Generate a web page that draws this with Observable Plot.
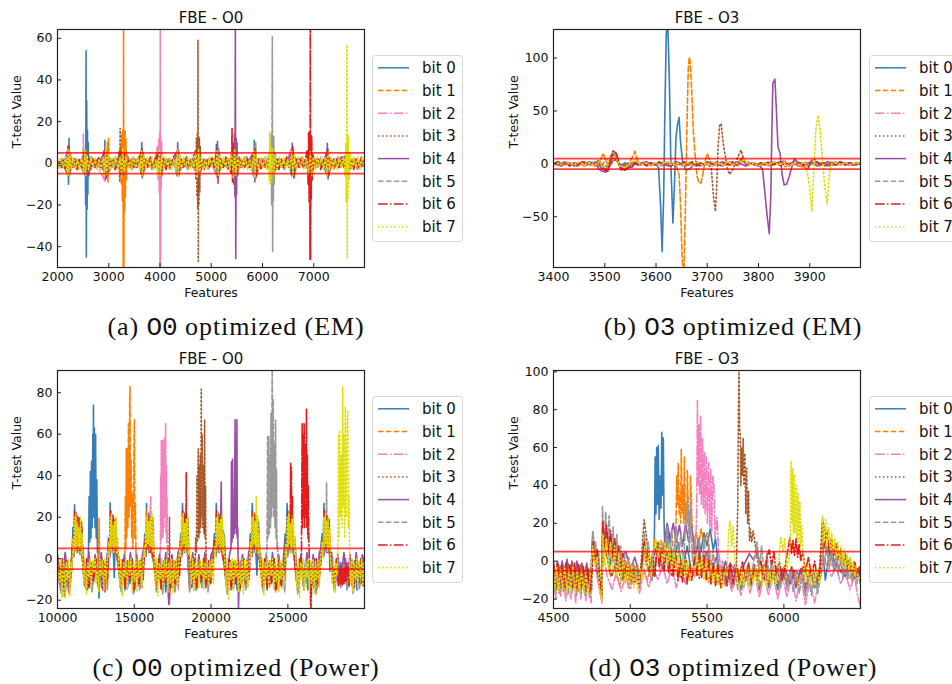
<!DOCTYPE html>
<html><head><meta charset="utf-8">
<script src="https://cdn.jsdelivr.net/npm/d3@7"></script>
<script src="https://cdn.jsdelivr.net/npm/@observablehq/plot@0.6"></script>
<style>
body{margin:0;background:#fff;}
#root{position:relative;width:952px;height:684px;overflow:hidden;background:#fff;font-family:"DejaVu Sans",sans-serif;}
.panel{position:absolute;}
.cap{position:absolute;font-family:"Liberation Serif",serif;font-size:26px;line-height:25px;white-space:nowrap;transform:translateX(-50%);letter-spacing:0.9px;color:#111;}
.cap .tt{font-family:"Liberation Mono",monospace;letter-spacing:0;}
</style></head>
<body><div id="root"></div>
<script>
// ---------- legend / series ----------
const bits = ["bit 0","bit 1","bit 2","bit 3","bit 4","bit 5","bit 6","bit 7"];
const colors = ["#377eb8","#ff7f00","#f781bf","#a65628","#984ea3","#999999","#e41a1c","#dede00"];
const dashes = [null,"5.5,2.4","9.6,2.4,1.5,2.4","1.5,2.5",null,"5.5,2.4","9.6,2.4,1.5,2.4","1.5,2.5"];
const threshold = [5, -5];

// ---------- panel (a): FBE - O0, EM ----------
const aXTicks = [2000,3000,4000,5000,6000,7000];
const aYTicks = [-40,-20,0,20,40,60];
const a0 = [2000,1,2080,-2,2150,2,2180,-4,2200,7,2215,-10,2225,12,2235,-6,2250,5,2270,-2,2350,2,2420,-2,2490,3,2520,-4,2540,6,2550,-20,2557,54,2563,-45,2570,30,2578,-22,2585,16,2592,-15,2600,10,2615,-6,2640,3,2720,-2,2800,2,2880,-3,2905,6,2915,-7,2925,11,2935,-8,2950,6,2970,-3,3050,2,3150,-2,3240,4,3260,-5,3280,5,3300,-4,3380,2,3480,-2,3580,2,3630,-5,3645,10,3655,-7,3670,5,3700,-2,3800,2,3900,-2,3970,4,3990,-5,4010,4,4100,-2,4200,2,4300,-2,4335,-6,4345,10,4355,-5,4370,4,4450,-2,4550,2,4650,-2,4730,4,4750,-4,4770,3,4850,-2,4950,2,5050,-2,5090,-5,5100,9,5110,-6,5130,5,5200,-2,5300,2,5400,-3,5430,5,5450,-4,5550,2,5650,-2,5750,2,5830,-6,5840,11,5850,-9,5860,7,5880,-3,5980,2,6080,-2,6180,3,6210,-3,6300,2,6400,-2,6500,2,6570,-6,6580,9.6,6590,-5,6600,5,6700,-2,6800,2,6900,-3,6940,4,7000,-2,7100,2,7200,-2,7255,-5,7265,9.6,7275,-6,7300,3,7400,-2,7500,2,7600,-2,7650,3,7700,-2,7800,2,7900,-2,7990,1];
const a1 = [2000,-1,2100,2,2190,-5,2210,6,2230,-4,2300,1,2400,-2,2500,2,2540,-5,2560,6,2580,-4,2680,2,2780,-2,2880,2,2960,-6,2975,10,2985,-9,2995,12,3010,-4,3100,2,3200,-3,3235,8,3245,-10,3255,14,3265,-18,3275,16,3283,-55,3289,66,3295,-55,3302,15,3310,-23,3318,16,3326,-16,3334,12,3345,-8,3360,4,3450,-2,3550,2,3640,-5,3655,6,3670,-3,3750,2,3850,-2,3940,5,3955,-6,3965,8,3980,-4,4080,2,4180,-2,4280,2,4340,-5,4355,6,4370,-3,4470,2,4570,-2,4670,2,4740,-5,4760,5,4850,-2,4950,2,5050,-2,5110,-6,5125,7,5140,-4,5250,2,5350,-2,5440,5,5480,-5,5500,4,5600,-2,5700,2,5800,-2,5850,6,5870,-6,5950,2,6050,-2,6150,2,6200,-5,6220,5,6320,-2,6420,2,6520,-2,6590,7,6610,-6,6700,2,6800,-2,6920,5,6950,-5,7050,2,7150,-2,7270,6,7290,-5,7400,2,7500,-2,7640,4,7670,-4,7750,2,7850,-2,7990,1];
const a2 = [2000,1,2100,-2,2200,7,2220,-6,2240,4,2340,-2,2440,2,2495,-4,2505,14,2515,-5,2530,6,2600,-2,2700,2,2800,-2,2920,-8.5,2940,8,2960,-5,3060,2,3160,-2,3260,5,3290,-6,3310,4,3410,-2,3510,2,3610,-2,3650,6,3670,-5,3770,2,3870,-2,3950,8,3965,-8,3975,12,3985,-14,3995,14.7,4000,-55,4005,66,4010,-55,4016,13,4024,-12,4032,10,4045,-6,4060,3,4160,-2,4260,2,4345,-6,4360,7,4375,-3,4475,2,4575,-2,4675,2,4740,-6,4760,6,4860,-2,4960,2,5060,-2,5115,-7,5130,7,5145,-3,5245,2,5345,-2,5430,6,5470,-6,5500,3,5600,-2,5700,2,5840,-7,5860,8,5880,-3,5980,2,6080,-2,6200,6,6220,-5,6320,2,6420,-2,6580,8,6600,-6,6700,2,6800,-2,6930,5,6960,-4,7060,2,7160,-2,7275,7,7295,-5,7400,2,7500,-2,7650,5,7680,-4,7780,2,7880,-2,7990,1];
const a3 = [2000,-1,2100,2,2205,-6,2220,6,2300,-2,2400,2,2520,-5,2540,5,2640,-2,2740,2,2840,-2,2940,6,2960,-6,3060,2,3160,-2,3205,6,3215,-9,3222,16.7,3230,-6,3245,5,3330,-2,3430,2,3530,-2,3650,5,3670,-4,3770,2,3870,-2,3990,5,4020,-5,4120,2,4220,-2,4350,5,4370,-4,4470,2,4570,-2,4690,6,4700,-8,4710,12,4720,-16,4728,14.7,4735,-22,4741,59,4747,-47,4753,13,4760,-20,4768,12,4776,-14,4785,8,4800,-4,4850,2,4950,-2,5050,2,5120,-5,5135,6,5240,-2,5340,2,5440,-5,5460,5,5560,-2,5660,2,5760,-2,5850,6,5870,-5,5970,2,6070,-2,6190,5,6210,-5,6310,2,6410,-2,6590,6,6610,-5,6710,2,6810,-2,6940,5,6960,-4,7060,2,7160,-2,7270,6,7290,-4,7390,2,7490,-2,7650,4,7680,-4,7780,2,7880,-2,7990,-1];
const a4 = [2000,1,2100,-2,2210,6,2230,-5,2330,2,2430,-2,2530,5,2560,-5,2660,2,2760,-2,2930,6,2950,-5,3050,2,3150,-2,3270,5,3290,-5,3390,2,3490,-2,3640,5,3660,-5,3760,2,3860,-2,3990,5,4010,-5,4110,2,4210,-2,4350,5,4370,-4,4470,2,4570,-2,4740,5,4760,-5,4860,2,4960,-2,5060,2,5110,-5,5122,10.5,5132,-9.7,5142,7,5155,-4,5250,2,5350,-2,5420,8,5440,-10,5452,14,5462,-16,5470,66,5478,-45.8,5486,12,5494,-15,5502,10,5515,-6,5540,3,5640,-2,5740,2,5860,6,5880,-6,5980,2,6080,-2,6200,5,6220,-5,6320,2,6420,-2,6590,6,6610,-5,6710,2,6810,-2,6940,5,6960,-5,7060,2,7160,-2,7265,6,7280,-7.5,7300,3,7400,-2,7500,2,7650,4,7680,-4,7780,2,7880,-2,7990,1];
const a5 = [2000,-2,2060,2,2120,-2,2180,3,2215,-6,2230,6,2290,-2,2350,2,2410,-3,2470,2,2530,-5,2550,5,2610,-2,2670,3,2730,-2,2790,2,2850,-3,2930,6,2950,-6,3010,2,3070,-2,3130,3,3190,-2,3260,5,3290,-6,3350,2,3410,-2,3470,3,3530,-2,3590,2,3645,-6,3660,6,3720,-2,3780,2,3840,-3,3900,2,3990,-5,4010,5,4070,-2,4130,2,4190,-3,4250,2,4345,-5,4360,6,4420,-2,4480,2,4540,-3,4600,2,4660,-2,4740,-5,4760,5,4820,-2,4880,2,4940,-3,5000,2,5060,-2,5120,-6,5135,7,5195,-2,5255,2,5315,-3,5375,2,5440,5,5470,-5,5530,2,5590,-2,5650,3,5710,-2,5770,2,5855,-7,5868,10,5880,-6,5940,2,6000,-2,6060,3,6120,-3,6150,8,6160,-10,6170,14,6178,-20,6186,14.7,6192,60.7,6198,-42.5,6205,12,6212,-18,6220,13,6230,-10,6245,5,6300,-2,6360,2,6420,-3,6480,2,6540,-2,6585,6,6600,-6,6660,2,6720,-2,6780,3,6840,-2,6930,5,6960,-5,7020,2,7080,-2,7140,3,7200,-2,7270,5,7290,-5,7350,2,7410,-2,7470,3,7530,-2,7590,2,7650,-5,7670,5,7730,-2,7790,2,7850,-3,7910,2,7990,-1];
const a6 = [2000,1,2050,-2,2100,2,2150,-3,2195,-5,2205,8.5,2215,-6,2230,5,2280,-2,2330,2,2380,-3,2430,2,2480,-2,2525,6,2545,-6,2600,2,2650,-3,2700,2,2750,-2,2800,3,2850,-2,2935,7,2955,-7,2975,5,3025,-2,3075,2,3125,-3,3175,2,3260,6,3280,-6,3300,5,3350,-2,3400,2,3450,-3,3500,2,3550,-2,3600,3,3645,7,3660,-6,3710,2,3760,-2,3810,3,3860,-2,3910,2,3990,6,4015,-6,4065,2,4115,-3,4165,2,4215,-2,4265,3,4345,6,4365,-6,4415,2,4465,-2,4515,3,4565,-2,4615,2,4665,-3,4740,7,4760,-6,4810,2,4860,-3,4910,2,4960,-2,5010,3,5060,-2,5115,7,5135,-7,5185,2,5235,-2,5285,3,5335,-2,5395,-5,5405,16.7,5415,-9,5425,10,5440,-4,5490,2,5540,-3,5590,2,5640,-2,5690,3,5740,-2,5790,2,5850,7,5870,-7,5920,2,5970,-3,6020,2,6070,-2,6120,3,6200,6,6220,-6,6270,2,6320,-3,6370,2,6420,-2,6470,3,6520,-2,6590,8,6610,-7,6660,2,6710,-2,6760,3,6810,-2,6870,6,6890,-10,6900,14.7,6910,-18.5,6920,15,6926,-46,6932,66,6938,-46,6945,14,6952,-17,6960,13,6970,-8,6985,4,7035,-2,7085,2,7135,-3,7185,2,7235,-2,7270,7,7290,-6,7340,2,7390,-3,7440,2,7490,-2,7540,3,7590,-2,7650,5,7680,-5,7730,2,7780,-3,7830,2,7880,-2,7930,3,7990,-1];
const a7 = [2000,2,2040,-3,2080,3,2120,-2,2160,3,2190,-6,2205,7,2220,-6,2240,5,2270,-3,2310,3,2350,-3,2390,2,2430,-3,2470,3,2510,-5,2530,7,2550,-6,2575,4,2610,-3,2650,3,2690,-2,2730,3,2770,-3,2810,2,2850,-3,2890,3,2920,-6,2940,8,2960,-6,2985,5,3020,-3,3060,3,3100,-2,3140,3,3180,-3,3220,3,3255,-7,3275,7,3300,-5,3330,3,3370,-3,3410,2,3450,-3,3490,3,3530,-2,3570,3,3610,-3,3640,6,3660,-6,3685,4,3720,-3,3760,3,3800,-2,3840,3,3880,-3,3920,2,3960,-6,3985,7,4010,-6,4035,4,4070,-3,4110,3,4150,-2,4190,3,4230,-3,4270,2,4310,-3,4340,6,4360,-6,4385,4,4420,-3,4460,3,4500,-2,4540,3,4580,-3,4620,2,4660,-3,4700,5,4730,-7,4750,7,4775,-5,4810,3,4850,-3,4890,2,4930,-3,4970,3,5010,-2,5050,3,5090,-3,5115,6,5135,-6,5160,4,5200,-3,5240,3,5280,-2,5320,3,5360,-3,5400,5,5430,-7,5455,7,5480,-6,5510,4,5550,-3,5590,3,5630,-2,5670,3,5710,-3,5750,2,5790,-3,5835,6,5855,-7,5880,5,5920,-3,5960,3,6000,-2,6040,3,6080,-3,6120,5,6132,-8,6140,15,6150,-10,6165,8,6180,-9,6200,7,6225,-6,6250,4,6290,-3,6330,3,6370,-2,6410,3,6450,-3,6490,2,6530,-3,6570,6,6595,-6,6620,4,6660,-3,6700,3,6740,-2,6780,3,6820,-3,6860,2,6900,-5,6930,6,6960,-6,6990,3,7030,-3,7070,3,7110,-2,7150,3,7190,-3,7230,3,7260,-6,7280,6,7305,-4,7340,3,7380,-3,7420,2,7460,-3,7500,3,7540,-2,7580,3,7610,-6,7625,10,7633,-18.5,7641,14.7,7647,57,7653,-45.4,7660,14,7668,-17,7676,13,7690,-8,7710,5,7740,-3,7780,3,7820,-2,7860,3,7900,-3,7940,3,7990,-2];

// ---------- panel (b): FBE - O3, EM ----------
const bXTicks = [3400,3500,3600,3700,3800,3900];
const bYTicks = [-50,0,50,100];
const b0 = [3400,0,3410,2,3420,-1,3430,1,3440,-2,3450,1,3460,-1,3470,2,3480,-1,3490,3,3500,-5,3508,-3,3515,6,3522,4,3530,-2,3540,1,3550,-3,3560,2,3570,-1,3580,1,3590,-1,3600,0,3605,-4,3609,-40,3612,-83,3615,-30,3617,40,3620,123,3623,132,3626,80,3629,0,3633,-56,3636,-20,3639,25,3642,37,3645,44,3648,20,3652,2,3658,-6,3665,-5,3672,-2,3680,1,3690,-1,3700,2,3710,-1,3720,1,3730,-2,3740,1,3750,-1,3760,2,3770,3,3780,-1,3790,1,3800,-2,3810,1,3820,-1,3830,2,3840,-1,3850,1,3860,-2,3870,1,3880,-1,3890,1,3900,-1,3910,2,3920,1,3930,-2,3940,1,3950,-1,3960,1,3970,-1,3980,1,3990,-1,3999,0];
const b1 = [3400,1,3412,-1,3424,2,3436,-1,3448,1,3460,-2,3472,1,3484,-2,3492,4,3497,10,3502,3,3510,-3,3518,5,3526,2,3534,-4,3542,-2,3550,3,3556,8,3559,12,3563,4,3570,-1,3580,1,3592,-1,3604,1,3616,-1,3628,0,3640,-2,3645,-10,3648,-40,3651,-90,3654,-110,3657,-50,3659,0,3661,50,3663,90,3665,101,3667,95,3670,65,3673,30,3676,10,3680,-12,3684,-18,3688,-18,3692,-8,3696,3,3700,9.7,3704,5,3710,-2,3720,1,3732,-1,3744,2,3756,-1,3768,3,3780,-1,3792,1,3804,-2,3816,1,3828,-1,3840,2,3852,-3,3864,1,3876,-2,3888,-3,3900,2,3912,-1,3924,1,3936,-2,3948,1,3960,-1,3972,1,3984,-1,3999,0];
const b2 = [3400,-1,3415,1,3430,-2,3445,1,3460,-1,3475,2,3490,-3,3500,2,3510,6,3518,9,3526,2,3535,-3,3545,1,3555,-2,3565,2,3580,-1,3595,1,3610,-2,3625,2,3640,-1,3655,1,3670,-2,3685,1,3700,-1,3715,2,3730,-1,3745,1,3760,-2,3775,3,3790,-1,3805,1,3820,-2,3835,1,3850,3,3865,-1,3880,1,3895,-2,3910,1,3925,-1,3940,2,3955,-1,3970,1,3985,-1,3999,0];
const b3 = [3400,1,3415,-1,3430,1,3445,-2,3460,1,3475,-1,3490,2,3505,-3,3520,4,3535,-2,3550,1,3565,-1,3580,2,3595,-1,3610,1,3625,-2,3640,1,3655,-1,3670,2,3685,-1,3700,1,3708,-5,3712,-30,3716,-45,3719,-15,3721,15,3724,36,3727,38,3731,20,3736,5,3740,-6,3744,-10,3750,-5,3756,2,3762,9,3766,13,3770,6,3775,-1,3785,1,3800,-2,3815,1,3830,-1,3845,2,3860,-1,3875,1,3890,-2,3905,1,3920,-1,3935,2,3950,-1,3965,1,3980,-1,3999,0];
const b4 = [3400,0,3415,-2,3430,1,3445,-1,3460,2,3472,-1,3482,2,3488,-5,3495,-7,3502,-8,3508,-4,3514,6,3520,10,3526,2,3532,-6,3538,-4,3545,-5,3552,1,3565,-1,3580,2,3595,-1,3610,1,3625,-2,3640,2,3655,-1,3670,1,3685,-2,3700,1,3715,-1,3730,2,3745,-1,3760,1,3775,-2,3790,1,3800,-1,3808,-5,3813,-30,3817,-50,3821,-66,3824,-30,3826,30,3828,76,3832,80,3835,50,3838,16,3842,10,3846,-10,3850,-20,3855,-19,3860,-12,3865,-3,3870,5,3876,2,3885,-1,3900,1,3915,-2,3930,1,3945,-1,3960,2,3975,-1,3999,0];
const b5 = [3400,1,3410,-1,3420,2,3430,-1,3440,1,3450,-2,3460,1,3470,-1,3480,2,3490,-2,3498,-6,3505,-4,3512,8,3518,11,3525,3,3533,-4,3541,-3,3550,-1,3560,2,3570,-1,3580,1,3590,-2,3600,1,3610,-1,3620,2,3630,-1,3640,1,3650,-2,3660,1,3670,-1,3680,2,3690,-1,3700,1,3710,-2,3720,1,3730,-1,3740,2,3750,-1,3760,1,3770,3,3780,-1,3790,1,3800,-2,3810,1,3820,-1,3830,2,3840,-1,3850,1,3860,-2,3870,1,3880,-1,3890,2,3900,-1,3910,1,3920,-2,3930,1,3940,-1,3950,2,3960,-1,3970,1,3980,-1,3990,1,3999,0];
const b6 = [3400,0,3408,2,3416,-1,3424,1,3432,-2,3440,1,3448,-1,3456,2,3464,-1,3472,1,3480,-2,3487,3,3493,-4,3500,-6,3506,-7,3511,4,3516,12,3520,12,3524,8,3529,-2,3534,-5,3540,-6,3546,-2,3552,-4,3558,1,3566,-1,3574,1,3582,-2,3590,1,3598,-1,3606,2,3614,-1,3622,1,3630,-2,3638,1,3646,-1,3654,2,3662,-1,3670,1,3678,-2,3686,1,3694,-1,3702,2,3710,-1,3718,1,3726,-2,3734,1,3742,-1,3750,2,3758,-1,3764,3,3768,6,3772,2,3780,-1,3788,1,3796,-2,3804,1,3812,-1,3820,2,3828,-1,3836,1,3844,-2,3852,1,3860,-1,3868,2,3876,-1,3884,1,3890,-3,3896,-5,3902,2,3908,5,3914,2,3920,-1,3928,1,3936,-2,3944,1,3952,-1,3960,2,3968,-1,3976,1,3984,-1,3992,1,3999,0];
const b7 = [3400,-1,3410,1,3420,-2,3430,1,3440,-1,3450,2,3460,-1,3470,1,3480,-2,3490,3,3500,-3,3510,5,3520,7,3530,-2,3540,-4,3550,1,3560,4,3570,-1,3580,1,3590,-2,3600,1,3610,-1,3620,2,3630,-1,3640,1,3650,-2,3660,1,3670,-1,3680,2,3690,-1,3700,1,3710,-2,3720,1,3730,-1,3740,2,3750,-1,3760,1,3770,4,3780,-1,3790,1,3800,-2,3810,1,3820,-1,3830,2,3840,-1,3850,1,3860,-2,3870,1,3880,-1,3890,2,3896,-10,3900,-23,3904,-45,3908,-5,3912,33,3916,46,3920,33,3925,2,3929,-20,3934,-38,3938,-10,3942,0,3950,1,3960,-1,3970,1,3980,-1,3990,1,3999,0];

// ---------- panel (c): FBE - O0, Power ----------
const cXTicks = [10000,15000,20000,25000];
const cYTicks = [-20,0,20,40,60,80];
const c0 = [10000,-4,10200,-14,10350,-1,10500,-18,10650,-2,10800,-15,10950,-3,11000,15,11060,3,11110,26,11170,5,11230,22,11290,4,11350,20,11420,3,11500,18,11570,2,11650,-2,11750,-13,11850,-1,11950,-15,12020,5,12060,30,12100,8,12140,42,12180,10,12220,47,12260,15,12300,60,12330,20,12340,74,12370,25,12400,63,12440,15,12480,60,12520,10,12560,38,12600,3,12640,6,12700,-19,12800,-2,12900,-14,13000,-1,13100,-16,13200,-3,13320,10,13380,3,13430,27,13490,5,13560,21,13630,4,13700,-9,13780,18,13860,3,13950,-2,14100,-14,14250,-1,14400,-15,14550,-2,14700,-12,14850,0,15000,-16,15150,-2,15300,-13,15450,-1,15600,-4,15680,12,15740,4,15800,26.6,15870,5,15950,22,16030,4,16120,20,16200,3,16300,-3,16450,-15,16600,-2,16750,-14,16900,-1,17050,-16,17200,-2,17350,-13,17500,-1,17650,-15,17800,-2,17950,-3,18020,12,18080,4,18140,26.6,18210,5,18290,22,18370,4,18450,20,18530,3,18620,-3,18750,-14,18900,-1,19050,-15,19200,-2,19350,-12,19500,0,19650,-14,19800,-2,19950,-12,20100,-1,20220,12,20280,4,20340,26.6,20410,5,20490,22,20570,4,20650,20,20730,3,20850,12,20950,-3,21100,-15,21250,-2,21400,-13,21550,-1,21700,-15,21850,-2,22000,-12,22150,0,22300,-14,22450,-2,22560,12,22620,4,22680,26.6,22750,5,22830,22,22910,4,22990,-8,23080,18,23200,-3,23350,-14,23500,-1,23650,-15,23800,-2,23950,-12,24100,0,24250,-14,24400,-2,24550,-13,24700,-1,24830,12,24890,4,24950,26.6,25020,5,25100,22,25180,4,25260,20,25340,3,25450,10,25550,-3,25700,-15,25850,-2,26000,-13,26150,-1,26300,-15,26450,-2,26600,-12,26750,0,26900,-14,27050,-2,27230,12,27290,4,27350,26.6,27420,5,27500,22,27580,4,27660,18,27740,-6,27850,-3,28000,-14,28150,-1,28300,-13,28450,-2,28600,-12,28750,0,28900,-14,29050,-2,29200,-13,29350,-1,29500,-15,29650,-2,29800,-12,30000,-3];
const c1 = [10000,-3,10250,-15,10500,-1,10750,-17,11000,8,11080,2,11150,20,11230,4,11320,18,11420,3,11520,17,11620,0,11800,-13,12000,-1,12200,-14,12400,-2,12600,-10,12680,4,12705,19.5,12730,2,12900,-13,13100,-1,13250,-15,13350,8,13430,2,13520,20,13620,4,13720,18,13820,3,13950,-2,14100,-14,14250,-1,14380,-6,14420,30,14450,5,14480,53,14510,10,14550,53,14580,15,14620,65,14660,20,14700,75,14720,83,14750,25,14790,48,14830,10,14870,31,14910,5,14960,40,15005,67,15040,10,15070,27,15110,3,15200,-12,15350,-1,15500,-14,15650,6,15730,2,15820,20,15920,4,16020,18,16120,3,16250,-2,16450,-15,16650,-1,16850,-16,17050,-2,17250,-14,17450,-1,17650,-16,17850,-2,18000,7,18080,2,18170,19,18270,4,18370,18,18470,3,18600,-15,18800,-1,19000,-14,19200,-2,19400,-12,19600,0,19800,-14,20000,-2,20250,7,20330,2,20420,19,20520,4,20620,18,20720,3,20850,-2,21050,-15,21250,-1,21450,-14,21650,-2,21850,-16,22050,-1,22250,-13,22450,-2,22600,7,22680,2,22770,19,22870,4,22970,18,23070,3,23200,-2,23400,-14,23600,-1,23800,-13,24000,-2,24200,-15,24400,-1,24600,-13,24800,-2,24900,7,24980,2,25070,19,25170,4,25270,18,25370,3,25480,-5,25650,-15,25850,-1,26050,-14,26250,-2,26450,-13,26650,-1,26850,-15,27050,-2,27250,7,27330,2,27420,19,27520,4,27620,18,27720,3,27850,-2,28050,-14,28250,-1,28450,-12,28650,-2,28850,-13,29050,-1,29250,-15,29450,-2,29650,-13,29850,-1,30000,-6];
const c2 = [10000,-5,10250,-16,10500,-2,10750,-14,11000,8,11080,2,11160,21,11250,4,11340,19,11440,3,11540,17,11640,-1,11850,-14,12050,-2,12250,-15,12450,-1,12650,-13,12850,-2,13050,-14,13250,-1,13350,8,13430,2,13520,21,13620,4,13720,19,13820,3,13950,-2,14150,-15,14350,-1,14550,-14,14750,-2,14950,-16,15150,-1,15350,-13,15550,-2,15680,8,15760,2,15850,22,15950,4,16070,29.8,16150,4,16230,20,16310,-2,16450,-14,16600,-1,16700,4,16720,40,16740,8,16760,57,16780,10,16800,45,16825,12,16850,57,16875,10,16900,50,16930,15,16960,58,17000,20,17040,65.5,17070,12,17090,45,17110,8,17130,30,17160,3,17230,-10,17300,-22,17400,-2,17550,-14,17700,-1,17850,-15,18000,8,18080,2,18170,21,18270,4,18370,19,18470,3,18600,-14,18800,-1,19000,-15,19200,-2,19400,-13,19600,-1,19800,-14,20000,-2,20250,8,20330,2,20420,21,20520,4,20620,19,20720,3,20850,-2,21050,-16,21250,-1,21450,-14,21650,-2,21850,-15,22050,-1,22250,-14,22450,-2,22600,8,22680,2,22770,21,22870,4,22970,19,23070,3,23200,-2,23400,-15,23600,-1,23800,-14,24000,-2,24200,-16,24400,-1,24600,-14,24800,-2,24900,8,24980,2,25070,21,25170,4,25270,19,25370,3,25480,-4,25650,-16,25850,-1,26050,-15,26250,-2,26450,-14,26650,-1,26850,-16,27050,-2,27250,8,27330,2,27420,21,27520,4,27620,19,27720,3,27850,-2,28050,-15,28250,-1,28450,-13,28650,-2,28850,-14,29050,-1,29250,-16,29450,-2,29650,-14,29850,-1,30000,-7];
const c3 = [10000,-4,10250,-14,10500,-1,10750,-16,11000,7,11080,2,11170,18,11270,4,11370,17,11470,3,11570,15,11660,-1,11850,-13,12050,-2,12250,-14,12450,-1,12650,-12,12850,-2,13050,-15,13250,-1,13350,7,13430,2,13520,18,13620,4,13720,17,13820,3,13950,-2,14150,-14,14350,-1,14550,-13,14750,-2,14950,-15,15150,-1,15350,-14,15550,-2,15680,7,15760,2,15850,18,15950,4,16050,17,16150,3,16280,-2,16450,-13,16650,-1,16850,-14,17050,-2,17250,-8,17290,20,17320,-3,17450,-14,17650,-1,17850,-13,18000,7,18080,2,18170,18,18270,4,18370,17,18470,3,18600,-13,18800,-1,18950,-4,19000,10,19040,3,19080,40,19110,8,19140,43,19170,53,19200,10,19240,45,19270,12,19300,50,19330,15,19360,81.7,19390,20,19420,60,19460,15,19500,45,19540,12,19580,67,19610,10,19640,35,19670,3,19800,-13,20000,-2,20250,7,20330,2,20420,18,20520,4,20620,17,20720,3,20850,-2,21050,-14,21250,-1,21450,-13,21650,-2,21850,-15,22050,-1,22250,-13,22450,-2,22600,7,22680,2,22770,18,22870,4,22970,17,23070,3,23200,-2,23400,-14,23600,-1,23800,-13,24000,-2,24200,-15,24400,-1,24600,-13,24800,-2,24900,7,24980,2,25070,18,25170,4,25270,17,25370,3,25480,-3,25650,-14,25850,-1,26050,-13,26250,-2,26450,-14,26650,-1,26850,-15,27050,-2,27250,7,27330,2,27420,18,27520,4,27620,17,27720,3,27850,-2,28050,-14,28250,-1,28450,-12,28650,-2,28850,-13,29050,-1,29250,-14,29450,-2,29650,-13,29850,-1,30000,-5];
const c4 = [10000,2,10250,-12,10500,3,10750,-13,11000,6,11080,1,11170,15,11270,3,11370,14,11470,2,11570,12,11660,3,11850,-11,12050,3,12250,-12,12450,2,12650,-10,12850,3,13050,-12,13250,2,13350,6,13430,1,13520,15,13620,3,13720,14,13820,2,13950,3,14150,-12,14350,2,14550,-11,14750,3,14950,-13,15150,2,15350,-11,15550,3,15680,6,15760,1,15850,15,15950,3,16050,14,16150,2,16280,3,16450,-12,16650,2,16850,-13,17050,3,17250,-22,17450,2,17650,-12,17850,3,18000,6,18080,1,18170,15,18270,3,18370,14,18470,2,18600,-12,18800,3,19000,-11,19200,2,19400,-10,19600,3,19800,-12,20000,2,20250,6,20330,1,20420,15,20520,3,20600,8,20660,37,20700,4,20760,14,20850,2,21050,-12,21200,2,21300,5,21330,46.7,21360,8,21400,48,21440,10,21480,20,21520,12,21560,67,21590,15,21620,30,21650,12,21680,67,21710,10,21740,15,21780,-25,21850,-5,22050,2,22250,-12,22450,3,22600,6,22680,1,22770,15,22870,3,22970,14,23070,2,23200,3,23400,-12,23600,2,23800,-11,24000,3,24200,-13,24400,2,24600,-11,24800,3,24900,6,24980,1,25070,15,25170,3,25270,14,25370,2,25480,3,25650,-12,25850,2,26050,-11,26250,3,26450,-12,26650,2,26850,-13,27050,3,27250,6,27330,1,27420,15,27520,3,27620,14,27720,2,27850,3,28050,-12,28250,2,28450,-10,28650,3,28850,-11,29050,2,29250,-13,29450,3,29650,-11,29850,2,30000,-3];
const c5 = [10000,-6,10250,-17,10500,-2,10750,-15,11000,6,11080,1,11160,16,11260,3,11360,15,11460,2,11560,14,11660,-2,11850,-15,12050,-2,12250,-16,12450,-1,12650,-14,12850,-3,13050,-16,13250,-2,13350,6,13430,1,13520,16,13620,3,13720,15,13820,2,13950,-3,14150,-16,14350,-2,14550,-15,14750,-3,14950,-17,15150,-2,15350,-15,15550,-3,15680,6,15760,1,15850,16,15950,3,16050,15,16150,2,16280,-3,16450,-16,16650,-2,16850,-17,17050,-3,17250,-16,17450,-2,17650,-15,17850,-3,18000,6,18080,1,18170,16,18270,3,18370,15,18470,2,18600,-16,18800,-2,19000,-15,19200,-3,19400,-14,19600,-2,19800,-16,20000,-3,20250,6,20330,1,20420,16,20520,3,20620,15,20720,2,20850,-3,21050,-17,21250,-2,21450,-15,21650,-3,21850,-17,22050,-2,22250,-15,22450,-3,22600,6,22680,1,22770,16,22870,3,22970,15,23070,2,23200,-3,23400,-16,23550,-2,23640,5,23680,58.8,23710,10,23760,59,23800,12,23830,50,23870,15,23900,70,23940,20,23980,95,24010,25,24050,77,24080,20,24120,55,24160,15,24200,66.8,24230,10,24260,43,24290,5,24320,8,24400,-15,24600,-2,24800,-16,24900,6,24980,1,25070,16,25170,3,25270,15,25370,2,25480,-3,25650,-17,25850,-2,26050,-15,26250,-3,26450,-16,26650,-2,26850,-17,27050,-3,27250,6,27330,1,27420,16,27490,5,27520,36.6,27560,4,27620,15,27720,2,27850,-3,28050,-16,28250,-2,28450,-14,28650,-3,28850,-15,29050,-2,29250,-17,29450,-3,29650,-15,29850,-2,30000,-8];
const c6 = [10000,-3,10150,-12,10300,0,10450,-18,10600,-1,10750,-14,10900,-2,11000,10,11060,2,11120,23,11180,5,11250,21,11320,3,11400,20,11480,4,11560,18,11640,-1,11750,-12,11900,0,12050,-14,12200,-2,12350,-11,12500,0,12650,-13,12800,-1,12950,-15,13100,-2,13250,-10,13340,9,13400,2,13470,23,13540,5,13620,21,13700,3,13780,19,13860,2,13960,-2,14100,-12,14250,0,14400,-14,14550,-1,14700,-11,14850,0,15000,-15,15150,-2,15300,-12,15450,0,15580,-10,15680,9,15740,2,15810,23,15880,5,15960,21,16040,3,16120,19,16200,2,16300,-2,16450,-13,16600,0,16750,-15,16900,-2,17050,-12,17200,0,17350,-14,17500,-1,17650,-12,17800,0,17950,-8,18020,9,18080,2,18150,23,18220,5,18300,21,18360,8,18380,41.4,18400,10,18460,20,18540,2,18640,-2,18780,-12,18930,0,19080,-14,19230,-1,19380,-11,19530,0,19680,-13,19830,-1,19980,-12,20120,-2,20230,9,20290,2,20360,23,20430,5,20510,21,20590,3,20670,19,20750,2,20850,-2,21000,-13,21150,0,21300,-15,21450,-1,21600,-12,21750,0,21900,-14,22050,-1,22200,-12,22350,0,22480,-10,22570,9,22630,2,22700,23,22770,5,22850,21,22930,3,23010,19,23090,2,23200,-2,23350,-13,23500,0,23650,-14,23800,-1,23950,-11,24100,0,24250,-15,24400,-1,24550,-12,24700,0,24800,-8,24870,9,24930,2,25000,23,25070,5,25140,10,25180,46,25210,12,25230,44,25260,10,25300,30,25340,8,25390,5,25450,-2,25600,-13,25750,0,25880,-5,25930,65,25960,15,25990,60,26020,20,26060,65,26090,15,26120,55,26160,20,26210,72,26240,15,26270,50,26300,10,26330,35,26370,8,26440,-10,26500,-26,26560,-8,26700,-14,26850,0,27000,-13,27150,-2,27250,9,27310,2,27380,23,27450,5,27530,21,27610,3,27690,19,27770,2,27870,-2,28000,-12,28150,0,28300,-13,28360,-5,28420,-12,28480,-4,28540,-13,28600,-5,28660,-12,28720,-4,28780,-11,28850,-2,29000,-13,29150,0,29300,-14,29450,-1,29600,-12,29750,0,29900,-13,30000,-4];
const c7 = [10000,-3,10150,-12,10220,0,10300,-19,10380,-1,10450,-8,10500,-19,10580,-2,10650,-10,10720,0,10800,-18,10880,-2,10950,-6,11000,10,11050,2,11100,20,11150,4,11200,22,11250,6,11300,17,11350,3,11400,15,11450,5,11500,20,11550,2,11600,12,11650,-2,11720,-12,11800,0,11880,-17,11960,-2,12040,-9,12120,0,12200,-14,12280,-1,12360,-7,12440,0,12520,-12,12600,-2,12680,-16,12760,0,12840,-8,12920,-1,13000,-15,13080,0,13160,-10,13240,-2,13320,8,13370,1,13420,20,13470,4,13520,22,13570,6,13620,16,13670,3,13720,18,13770,5,13820,20,13870,2,13920,10,13980,-3,14060,-13,14140,0,14220,-18,14300,-2,14380,-9,14460,0,14540,-14,14620,-1,14700,-8,14780,0,14860,-15,14940,-2,15020,-11,15100,0,15180,-16,15260,-1,15340,-9,15420,0,15500,-13,15580,-2,15650,6,15700,1,15750,20,15800,5,15850,24,15900,7,15950,18,16000,4,16050,20,16100,6,16150,22,16200,3,16250,12,16310,-2,16380,-14,16460,0,16540,-18,16620,-2,16700,-10,16780,0,16860,-14,16940,-1,17020,-9,17100,0,17180,-16,17260,-2,17340,-12,17420,0,17500,-17,17580,-1,17660,-10,17740,0,17820,-14,17900,-2,17980,6,18030,1,18080,20,18130,5,18180,22,18230,7,18280,17,18330,3,18380,19,18430,5,18480,21,18530,2,18580,10,18640,-3,18720,-12,18800,0,18880,-16,18960,-2,19040,-9,19120,0,19200,-14,19280,-1,19360,-8,19440,0,19520,-15,19600,-2,19680,-10,19760,0,19840,-13,19920,-1,20000,-9,20080,0,20150,-12,20230,6,20280,1,20330,20,20380,5,20430,22,20480,7,20530,17,20580,3,20630,19,20680,5,20730,21,20780,2,20830,12,20900,-3,20980,-14,21060,0,21140,-20,21220,-2,21300,-10,21380,0,21460,-15,21540,-1,21620,-9,21700,0,21780,-16,21860,-2,21940,-12,22020,0,22100,-17,22180,-1,22260,-10,22340,0,22420,-14,22500,-2,22560,8,22610,1,22660,20,22710,5,22760,22,22810,7,22860,18,22910,3,22940,30,22990,5,23040,21,23090,2,23140,12,23200,-3,23280,-13,23360,0,23440,-18,23520,-2,23600,-9,23680,0,23760,-14,23840,-1,23920,-8,24000,0,24080,-15,24160,-2,24240,-11,24320,0,24400,-16,24480,-1,24560,-10,24640,0,24720,-14,24800,-2,24860,7,24910,1,24960,20,25010,5,25060,22,25110,7,25160,17,25210,3,25260,19,25310,5,25360,21,25410,2,25460,11,25520,-3,25600,-14,25680,0,25760,-19,25840,-2,25920,-10,26000,0,26080,-15,26160,-1,26240,-9,26320,0,26400,-16,26480,-2,26560,-12,26640,0,26720,-17,26800,-1,26880,-10,26960,0,27040,-14,27120,-2,27240,8,27290,1,27340,20,27390,5,27440,22,27490,7,27540,18,27590,3,27640,20,27690,5,27740,14,27800,-3,27880,-12,27960,0,28040,-16,28120,-2,28200,-8,28260,2,28300,60,28340,10,28380,62,28420,20,28480,50,28530,15,28570,83,28610,25,28660,60,28700,10,28740,73,28790,20,28850,55,28900,71,28940,15,28980,30,29020,0,29080,-12,29160,0,29240,-16,29320,-2,29400,-10,29480,0,29560,-14,29640,-1,29720,-9,29800,0,29880,-13,29960,-2,30000,-5];

// ---------- panel (d): FBE - O3, Power ----------
const dXTicks = [4500,5000,5500,6000];
const dYTicks = [-20,0,20,40,60,80,100];
const d0 = [4500,-2,4515,-14,4528,-1,4545,-13,4560,-2,4578,-14,4592,-1,4610,-13,4625,-2,4642,-15,4656,-1,4672,-14,4688,-2,4705,-15,4720,-3,4740,-16,4755,10,4785,-5,4815,-20,4820,18,4850,12,4870,-2,4890,8,4910,-6,4930,2,4950,-10,4980,-2,5000,-12,5030,-3,5060,-14,5085,8,5110,-2,5140,-10,5155,5,5158,20,5162,55,5167,25,5172,60,5177,30,5182,61,5188,22,5194,45,5200,28,5205,68,5210,35,5215,65,5220,20,5226,5,5250,15,5280,-2,5310,10,5340,-5,5370,8,5400,-6,5430,5,5445,12,5460,5,5480,15,5500,8,5520,17,5540,6,5555,12,5575,-4,5600,-12,5630,-3,5660,-14,5690,-4,5720,-15,5750,-5,5780,-13,5810,-3,5840,-15,5870,-5,5900,-14,5930,-3,5960,-15,5990,-4,6020,-13,6050,-3,6080,-14,6110,-4,6140,-16,6170,-5,6200,-14,6230,-6,6250,8,6270,-10,6300,6,6330,-5,6360,3,6390,-8,6420,0,6450,-10,6480,-4,6499,-12];
const d1 = [4500,-3,4520,-15,4535,-2,4555,-14,4570,-3,4590,-15,4605,-2,4625,-14,4640,-3,4660,-16,4675,-2,4695,-15,4710,-3,4735,-17,4755,8,4785,-8,4815,-21,4820,12,4850,2,4870,-8,4900,-4,4930,-13,4960,-5,4990,-14,5020,-4,5050,-12,5080,-2,5110,-10,5140,-2,5160,12,5180,5,5200,11,5220,4,5240,9,5260,2,5280,-4,5298,20,5302,45,5308,30,5312,52,5318,25,5322,35,5328,20,5332,59,5338,25,5342,40,5348,20,5352,55,5358,22,5362,30,5368,20,5372,48,5378,18,5382,27,5388,15,5392,45,5396,37,5402,20,5410,10,5430,15,5445,8,5460,17,5480,10,5500,15,5520,2,5550,-8,5580,-2,5610,-12,5640,-3,5670,-14,5700,-4,5730,-13,5760,-3,5790,-12,5820,-4,5850,-14,5880,-3,5910,-12,5940,-4,5970,-13,6000,-3,6030,-14,6060,-4,6090,-12,6120,-3,6150,-15,6180,-4,6210,-14,6240,-6,6255,10,6280,4,6310,-2,6340,2,6370,-6,6400,-2,6430,-9,6460,-4,6499,-10];
const d2 = [4500,-8,4515,-20,4530,-6,4548,-19,4562,-7,4580,-21,4595,-6,4612,-20,4628,-7,4645,-22,4660,-6,4678,-20,4692,-8,4710,-21,4725,-9,4745,-22,4755,14,4785,-8,4815,-22,4820,5,4850,-8,4880,-15,4910,-6,4940,-16,4970,-8,5000,-15,5030,-6,5060,-17,5090,-5,5120,-14,5150,-4,5180,-10,5210,-2,5240,-12,5270,-3,5300,-14,5330,-4,5360,-12,5390,-3,5420,-8,5433,30,5437,84.7,5442,40,5447,72,5452,35,5458,77,5463,30,5470,65,5476,28,5482,58,5488,25,5495,55,5502,20,5510,52,5518,18,5524,49,5530,15,5537,45,5544,40.6,5552,12,5565,23,5575,5,5600,-10,5630,-5,5660,-16,5690,-6,5720,-18,5750,-7,5780,-17,5810,-6,5840,-19,5870,-7,5900,-18,5930,-6,5960,-20,5990,-8,6020,-19,6050,-7,6080,-21,6110,-8,6140,-23,6170,-10,6200,-22,6230,-9,6255,5,6280,-3,6310,-8,6340,-3,6370,-12,6400,-6,6430,-15,6460,-8,6480,-18,6499,-24];
const d3 = [4500,-4,4518,-15,4532,-2,4550,-14,4565,-3,4582,-15,4598,-2,4615,-14,4630,-3,4648,-16,4662,-2,4680,-15,4695,-3,4715,-16,4730,-4,4748,-15,4755,15.6,4785,-2,4815,-18,4820,10,4850,2,4880,-8,4910,0,4940,-10,4970,-2,5000,-12,5030,-3,5060,-13,5090,21.8,5110,10,5130,-2,5150,-8,5180,8,5210,-4,5240,5,5270,-8,5300,3,5330,-9,5360,2,5390,-10,5420,0,5450,-9,5480,-2,5510,-11,5540,-3,5570,-12,5600,-3,5630,-11,5660,-2,5690,-6,5700,30,5704,80,5708,102,5712,70,5716,66.6,5720,40,5725,60,5730,45,5735,64.8,5740,40,5746,57,5752,25,5758,49,5764,20,5770,37,5776,11,5782,17,5790,10,5800,16,5815,8,5840,-6,5870,-2,5900,-12,5930,-3,5960,-13,5990,-4,6020,-12,6050,-3,6080,-13,6110,-4,6140,-14,6170,-5,6200,-13,6230,-6,6252,22,6280,12,6310,7,6340,9,6370,2,6400,4,6430,-4,6460,0,6480,-6,6499,-8];
const d4 = [4500,0,4512,-12,4526,0,4542,-11,4556,0,4574,-12,4588,1,4605,-12,4620,0,4638,-13,4652,0,4670,-12,4684,-1,4702,-13,4716,-1,4738,-14,4755,12,4785,-4,4815,-19,4822,15,4850,14,4880,8,4910,10,4940,2,4970,5,5000,-4,5030,2,5060,-8,5090,5,5120,-5,5150,2,5180,10,5210,3,5240,20,5260,12,5280,20,5300,10,5320,19,5340,8,5360,20,5380,10,5400,18,5420,4,5440,8,5470,-4,5500,5,5530,-6,5560,2,5590,-8,5620,0,5650,-10,5680,-2,5710,-11,5740,-2,5775,4,5800,1,5830,4,5860,-8,5890,-2,5920,-10,5950,-3,5980,-11,6010,-4,6040,-12,6070,-5,6100,-7,6130,-3,6160,-10,6190,-5,6220,-12,6245,-6,6255,8,6280,6,6310,4,6340,-2,6370,-5,6400,-8,6430,-4,6460,-9,6499,-5];
const d5 = [4500,-3,4510,-16,4522,-2,4538,-17,4550,-3,4566,-16,4578,-2,4594,-18,4606,-3,4622,-17,4634,-2,4650,-18,4662,-3,4678,-17,4690,-4,4706,-18,4718,-5,4736,-19,4748,-6,4756,15.6,4765,2,4775,10,4785,-5,4795,4,4805,-12,4815,-19,4819,28.8,4830,10,4840,26,4850,5,4862,24,4875,2,4888,18,4900,-2,4912,14,4925,-4,4938,8,4950,-6,4962,4,4975,-8,4990,2,5005,-10,5020,0,5035,-11,5050,-2,5065,-12,5078,-3,5092,15,5105,2,5118,10,5130,-4,5145,5,5160,-6,5175,8,5190,-4,5205,10,5220,-3,5240,18,5255,2,5270,16,5285,0,5300,18,5315,2,5330,15,5345,-2,5360,18,5375,34.8,5385,5,5395,30,5405,0,5420,12,5435,-4,5450,10,5465,-6,5480,12,5495,-4,5510,8,5525,-8,5540,6,5555,-10,5570,2,5585,-12,5600,0,5620,-13,5640,-2,5660,-14,5680,-3,5700,-15,5720,-4,5740,-14,5760,-3,5780,-13,5800,-2,5826,10,5840,-4,5855,8,5870,-6,5890,4,5905,-10,5920,0,5940,-12,5960,-2,5980,-14,6000,-4,6020,-15,6040,-5,6060,-16,6080,-6,6100,-17,6120,-7,6140,-19,6160,-8,6180,-18,6200,-7,6220,-17,6240,-8,6252,6,6265,-2,6280,8,6295,-4,6310,6,6325,-6,6340,4,6355,-7,6370,2,6385,-9,6400,0,6415,-10,6430,-2,6445,-11,6460,-3,6475,-12,6490,-5,6499,-12];
const d6 = [4500,-2,4512,-13,4524,-1,4540,-12,4552,-2,4568,-14,4580,-1,4596,-13,4608,-2,4624,-14,4636,-1,4652,-15,4664,-2,4680,-14,4692,-3,4708,-15,4720,-4,4738,-16,4750,-5,4758,10,4770,0,4785,6,4800,-10,4815,-18,4821,21,4832,8,4845,19,4858,4,4872,16,4885,0,4898,12,4910,-3,4924,8,4938,-6,4952,4,4966,-9,4980,0,4995,-11,5010,-2,5025,-12,5040,-3,5055,-13,5070,-4,5092,10,5105,-2,5118,6,5132,-6,5146,2,5160,-8,5175,8,5190,-3,5205,7,5220,-5,5235,5,5250,-6,5265,3,5280,-8,5295,2,5310,-10,5325,0,5340,-11,5355,-1,5370,-12,5385,-2,5400,-10,5420,2,5435,-8,5450,4,5465,-9,5480,3,5495,-10,5510,1,5525,-12,5540,-1,5555,-13,5570,-2,5590,-14,5610,-3,5630,-13,5650,-1,5670,-12,5690,-2,5710,-11,5730,0,5750,-10,5770,-1,5790,-12,5810,-2,5830,-11,5850,0,5870,-10,5890,2,5905,6,5920,-2,5935,5,5950,-8,5970,0,5990,-10,6010,-2,6040,13,6050,4,6060,11,6070,3,6080,12,6090,2,6100,9,6110,0,6125,5,6140,-6,6160,2,6180,-8,6200,0,6220,-10,6240,-4,6252,21,6265,8,6280,16,6295,5,6310,12,6325,3,6340,9,6355,1,6370,6,6385,-2,6400,3,6415,-4,6430,1,6445,-6,6460,-1,6475,-8,6490,-3,6499,-10];
const d7 = [4500,-4,4510,-15,4520,-3,4534,-16,4545,-4,4560,-15,4572,-3,4588,-17,4600,-4,4614,-16,4626,-3,4642,-17,4654,-5,4670,-16,4682,-4,4698,-17,4710,-6,4726,-18,4740,-7,4756,8,4770,-2,4785,2,4800,-14,4815,-21,4822,14,4832,-2,4845,12,4858,-4,4872,10,4885,-6,4898,8,4912,-8,4926,5,4940,-10,4954,2,4968,-12,4982,0,4996,-13,5010,-2,5024,-14,5038,-3,5052,-15,5066,-4,5080,-10,5094,8,5108,-4,5122,6,5136,-8,5150,4,5165,12,5180,2,5195,11,5210,0,5225,10,5240,-2,5255,8,5270,-4,5285,6,5300,-6,5315,4,5330,-8,5345,2,5360,-9,5375,0,5390,-10,5405,-2,5420,-6,5435,4,5450,-8,5465,2,5480,-10,5495,0,5510,-11,5525,-2,5540,-12,5555,-3,5570,-13,5585,-4,5600,-14,5615,-5,5630,-8,5640,15,5650,21,5660,8,5670,18,5680,2,5695,-8,5710,-15,5725,-4,5740,-13,5755,-3,5770,-14,5785,-4,5800,-12,5815,-3,5830,-13,5845,-2,5860,-12,5875,-3,5890,-14,5905,-4,5920,-13,5935,-3,5950,-12,5965,-2,5980,13,5995,5,6005,12,6020,-4,6035,2,6043,15,6047,53,6052,20,6057,49,6062,15,6068,46,6073,15,6080,40,6086,12,6092,36,6098,10,6104,31,6110,8,6116,19,6124,5,6140,-10,6155,-2,6170,-12,6185,-3,6200,-13,6215,-4,6230,-12,6245,-5,6252,24,6262,10,6272,22,6282,8,6292,18,6302,6,6312,15,6322,4,6332,12,6342,2,6352,10,6362,0,6372,8,6382,-2,6392,6,6402,-4,6412,4,6422,-5,6432,2,6442,-6,6452,0,6462,-8,6472,-2,6482,-10,6499,-8];

// ---------- rendering ----------
const root = document.getElementById("root");
const NS = "http://www.w3.org/2000/svg";
const fmt = d => (d < 0 ? "\u2212" + (-d) : String(d));
function rows(flat, k) {
  const out = [];
  for (let i = 0; i + 1 < flat.length; i += 2) out.push({x: flat[i], y: flat[i + 1], bit: bits[k]});
  return out;
}
const SW = 476, SH = 305;
function panel(o) {
  const fw = SW - o.ml - o.mr, fh = SH - o.mt - o.mb;
  const marks = [];
  o.series.forEach((s, k) => {
    const opts = {x: "x", y: "y", stroke: colors[k], strokeWidth: 1.6, clip: true};
    if (dashes[k]) opts.strokeDasharray = dashes[k];
    marks.push(Plot.line(rows(s, k), opts));
  });
  marks.push(Plot.ruleY(threshold, {stroke: "#ff0000", strokeWidth: 1.8, strokeOpacity: 0.75}));
  marks.push(Plot.frame({stroke: "#222", strokeWidth: 1.2}));
  marks.push(Plot.tickX(o.xTicks, {x: d => d, stroke: "#222", insetTop: fh - 4}));
  marks.push(Plot.tickY(o.yTicks, {y: d => d, stroke: "#222", insetRight: fw - 4}));
  marks.push(Plot.axisX(o.xTicks, {tickSize: 0, tickPadding: 5, tickFormat: fmt, label: null, fill: "#111"}));
  marks.push(Plot.axisY(o.yTicks, {tickSize: 0, tickPadding: 5, tickFormat: fmt, label: null, fill: "#111"}));
  marks.push(Plot.text([o.title], {text: d => d, frameAnchor: "top", dy: o.tdy, fontSize: 15, lineAnchor: "middle", fill: "#111"}));
  marks.push(Plot.text(["Features"], {text: d => d, frameAnchor: "bottom", dy: 25, fontSize: 12.5, lineAnchor: "middle", fill: "#111"}));
  marks.push(Plot.text(["T-test Value"], {text: d => d, frameAnchor: "left", dx: o.ydx, rotate: -90, fontSize: 12.5, lineAnchor: "middle", fill: "#111"}));
  const svg = Plot.plot({
    width: SW, height: SH,
    marginLeft: o.ml, marginRight: o.mr, marginTop: o.mt, marginBottom: o.mb,
    x: {domain: o.xDomain}, y: {domain: o.yDomain},
    style: {fontFamily: "DejaVu Sans", fontSize: "12.5px", background: "transparent", overflow: "visible"},
    marks
  });
  const div = document.createElement("div");
  div.className = "panel";
  div.style.left = o.left + "px"; div.style.top = o.top + "px";
  div.appendChild(svg);
  root.appendChild(div);
}
function el(tag, attrs) {
  const e = document.createElementNS(NS, tag);
  for (const k in attrs) if (attrs[k] != null) e.setAttribute(k, attrs[k]);
  return e;
}
function legend(left, top) {
  const w = 90, h = 186;
  const svg = el("svg", {width: w + 2, height: h + 2});
  svg.style.position = "absolute"; svg.style.left = left + "px"; svg.style.top = top + "px"; svg.style.overflow = "visible";
  svg.appendChild(el("rect", {x: 0.5, y: 0.5, width: w, height: h, rx: 3, fill: "white", "fill-opacity": 0.8, stroke: "#d6d6d6"}));
  bits.forEach((b, k) => {
    const y = 12.8 + k * 22.7;
    svg.appendChild(el("line", {x1: 6, x2: 37, y1: y, y2: y, stroke: colors[k], "stroke-width": 1.5, "stroke-dasharray": dashes[k]}));
    const t = el("text", {x: 50, y: y, dy: "0.36em", "font-family": "DejaVu Sans", "font-size": 15, fill: "#111"});
    t.textContent = b;
    svg.appendChild(t);
  });
  root.appendChild(svg);
}
function caption(cx, cy, label, tt, rest) {
  const d = document.createElement("div");
  d.className = "cap";
  d.style.left = cx + "px"; d.style.top = (cy - 13) + "px";
  d.innerHTML = label + ' <span class="tt">' + tt + '</span> ' + rest;
  root.appendChild(d);
}

panel({series: [a0,a1,a2,a3,a4,a5,a6,a7], xDomain: [2000, 7990], yDomain: [-50, 64.2], xTicks: aXTicks, yTicks: aYTicks,
  title: "FBE - O0", left: 0, top: 0, ml: 57, mr: 112, mt: 29, mb: 38, tdy: -11, ydx: -41});
panel({series: [b0,b1,b2,b3,b4,b5,b6,b7], xDomain: [3400, 3999], yDomain: [-98, 127], xTicks: bXTicks, yTicks: bYTicks,
  title: "FBE - O3", left: 476, top: 0, ml: 77, mr: 92, mt: 29, mb: 38, tdy: -11, ydx: -40});
panel({series: [c0,c1,c2,c3,c4,c5,c6,c7], xDomain: [10000, 29990], yDomain: [-24, 90.7], xTicks: cXTicks, yTicks: cYTicks,
  title: "FBE - O0", left: 0, top: 342, ml: 57, mr: 112, mt: 28, mb: 39, tdy: -11, ydx: -41});
panel({series: [d0,d1,d2,d3,d4,d5,d6,d7], xDomain: [4500, 6499], yDomain: [-25, 100.7], xTicks: dXTicks, yTicks: dYTicks,
  title: "FBE - O3", left: 476, top: 342, ml: 77, mr: 92, mt: 28, mb: 39, tdy: -11, ydx: -40});

legend(372, 55);
legend(869, 55);
legend(372, 396);
legend(869, 396);

caption(236, 327, "(a)", "O0", "optimized (EM)");
caption(733, 327, "(b)", "O3", "optimized (EM)");
caption(236, 668, "(c)", "O0", "optimized (Power)");
caption(733, 668, "(d)", "O3", "optimized (Power)");
</script>
</body></html>
